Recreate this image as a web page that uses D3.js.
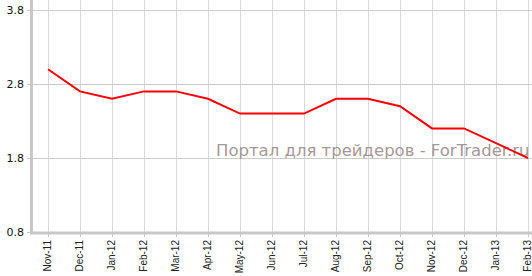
<!DOCTYPE html>
<html>
<head>
<meta charset="utf-8">
<script src="https://cdn.jsdelivr.net/npm/d3@7"></script>
<style>
  body { margin: 0; background: #fff; }
</style>
</head>
<body>
<script>
// months and values
var months = ["Nov-11", "Dec-11", "Jan-12", "Feb-12", "Mar-12", "Apr-12", "May-12", "Jun-12",
  "Jul-12", "Aug-12", "Sep-12", "Oct-12", "Nov-12", "Dec-12", "Jan-13", "Feb-13"];
var values = [3.0, 2.7, 2.6, 2.7, 2.7, 2.6, 2.4, 2.4, 2.4, 2.6, 2.6, 2.5, 2.2, 2.2, 2.0, 1.8];
var yTicks = [0.8, 1.8, 2.8, 3.8];

var width = 532, height = 276;

var svg = d3.select("body")
  .append("svg")
  .attr("width", width)
  .attr("height", height);

var x = d3.scalePoint()
  .domain(months)
  .range([48, 528]);

var y = d3.scaleLinear()
  .domain([0.8, 3.8])
  .range([232, 10]);

// vertical grid
svg.append("g")
  .selectAll("line")
  .data(months)
  .enter().append("line")
  .attr("x1", d => x(d) + 0.5)
  .attr("x2", d => x(d) + 0.5)
  .attr("y1", 0)
  .attr("y2", 232)
  .style("stroke", "#d9d9d9")
  .style("stroke-width", 1);

// horizontal grid
svg.append("g")
  .selectAll("line")
  .data(yTicks.slice(1))
  .enter().append("line")
  .attr("x1", 31)
  .attr("x2", width)
  .attr("y1", d => y(d) + 0.5)
  .attr("y2", d => y(d) + 0.5)
  .style("stroke", "#cccccc")
  .style("stroke-width", 1);

// watermark
svg.append("text")
  .attr("x", 216)
  .attr("y", 156)
  .text("Портал для трейдеров - ForTrader.ru")
  .style("font-family", "DejaVu Sans")
  .style("font-size", "16.5px")
  .style("fill", "#a69797");

// y axis
var yAxis = svg.append("g")
  .attr("transform", "translate(31,0)")
  .call(d3.axisLeft(y).tickValues(yTicks).tickFormat(d3.format(".1f")).tickSize(4).tickPadding(3));
yAxis.select(".domain").remove();
yAxis.selectAll("line").style("stroke", "#c8c8c8");
yAxis.selectAll("text")
  .style("font-family", "Verdana, DejaVu Sans")
  .style("font-size", "11px")
  .style("fill", "#111");

svg.append("line")
  .attr("x1", 31.5).attr("x2", 31.5)
  .attr("y1", 0).attr("y2", 234)
  .style("stroke", "#c8c8c8")
  .style("stroke-width", 3);

// x axis
var xAxis = svg.append("g")
  .attr("transform", "translate(0,233)")
  .call(d3.axisBottom(x).tickSize(4).tickPadding(4));
xAxis.select(".domain").remove();
xAxis.selectAll("line").style("stroke", "#c8c8c8");
xAxis.selectAll("text")
  .attr("transform", "rotate(-90)")
  .attr("x", -7)
  .attr("y", -1)
  .attr("dy", "0.32em")
  .style("text-anchor", "end")
  .style("font-family", "Arial, Liberation Sans")
  .style("font-size", "10px")
  .style("fill", "#222");

svg.append("line")
  .attr("x1", 30).attr("x2", width)
  .attr("y1", 233).attr("y2", 233)
  .style("stroke", "#c8c8c8")
  .style("stroke-width", 3);

// the line
var line = d3.line()
  .x((d, i) => x(months[i]))
  .y(d => y(d));

svg.append("path")
  .datum(values)
  .attr("d", line)
  .style("fill", "none")
  .style("stroke", "#ff0000")
  .style("stroke-width", 2);
</script>
</body>
</html>
